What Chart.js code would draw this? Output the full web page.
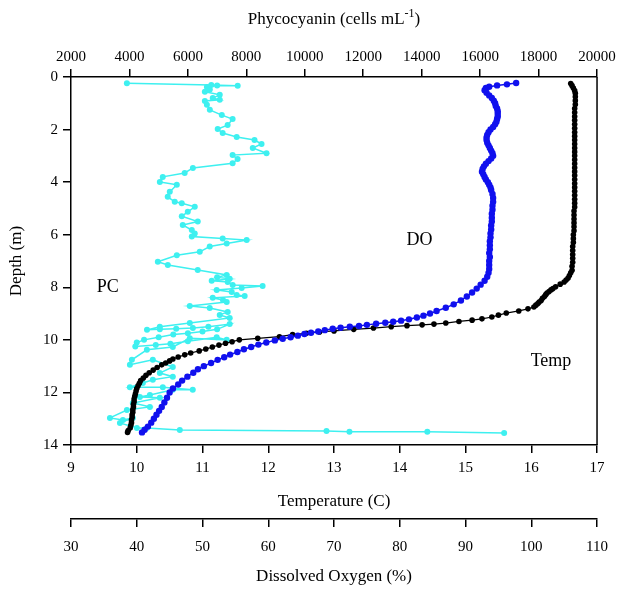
<!DOCTYPE html>
<html>
<head>
<meta charset="utf-8">
<script src="https://cdn.jsdelivr.net/npm/chart.js@4.4.1/dist/chart.umd.min.js"></script>
<style>
  html, body { margin: 0; padding: 0; background: #ffffff; }
  #c { display: block; }
</style>
</head>
<body>
<canvas id="c" width="619" height="590"></canvas>
<script>
// ---------------- DATA ----------------
// Temperature (C) profile
const tempDepth = [
  0.25,0.33,0.42,0.52,0.62,0.75,0.9,1.05,1.2,1.35,
  1.5,1.65,1.8,1.95,2.1,2.25,2.4,2.55,2.7,2.85,
  3.0,3.15,3.3,3.45,3.6,3.75,3.9,4.05,4.2,4.35,
  4.5,4.65,4.8,4.95,5.1,5.25,5.4,5.55,5.7,5.85,
  6.0,6.15,6.3,6.45,6.6,6.75,6.9,7.05,7.2,7.35,
  7.45,7.55,7.65,7.72,7.8,7.88,7.98,8.05,8.1,8.16,
  8.22,8.28,8.35,8.42,8.5,8.56,8.62,8.68,8.75,8.82,
  8.9,8.98,9.06,9.13,9.2,9.25,9.3,9.36,9.4,9.43,
  9.46,9.5,9.55,9.6,9.66,9.7,9.75,9.8,9.88,9.94,
  10.0,10.07,10.13,10.2,10.27,10.35,10.42,10.5,10.57,10.65,
  10.73,10.8,10.88,10.95,11.05,11.15,11.25,11.35,11.45,11.55,
  11.65,11.75,11.85,11.95,12.05,12.15,12.25,12.35,12.45,12.55,
  12.65,12.75,12.85,12.95,13.05,13.15,13.25,13.35,13.45,13.52
];
const tempValues = [
  16.6,16.62,16.64,16.66,16.67,16.67,16.67,16.67,16.66,16.66,
  16.66,16.66,16.66,16.66,16.66,16.66,16.66,16.66,16.66,16.66,
  16.66,16.66,16.66,16.66,16.66,16.66,16.66,16.66,16.66,16.66,
  16.66,16.66,16.66,16.66,16.65,16.65,16.65,16.65,16.65,16.65,
  16.64,16.64,16.64,16.63,16.63,16.63,16.63,16.63,16.62,16.62,
  16.6,16.58,16.56,16.53,16.5,16.44,16.37,16.33,16.3,16.27,
  16.24,16.22,16.2,16.17,16.15,16.12,16.1,16.07,16.04,15.95,
  15.81,15.62,15.5,15.4,15.25,15.1,14.9,14.7,14.52,14.34,
  14.11,13.87,13.6,13.3,13.0,12.78,12.58,12.37,12.17,11.84,
  11.56,11.45,11.35,11.25,11.15,11.05,10.95,10.82,10.73,10.63,
  10.55,10.5,10.44,10.38,10.31,10.25,10.19,10.14,10.1,10.06,
  10.04,10.02,10.0,9.99,9.98,9.97,9.96,9.96,9.95,9.95,
  9.94,9.94,9.93,9.93,9.92,9.92,9.91,9.9,9.87,9.86
];

// Dissolved oxygen (%) profile
const doDepth = [
  0.23,0.28,0.32,0.37,0.42,0.5,0.6,0.7,0.8,0.9,
  1.0,1.1,1.2,1.3,1.4,1.5,1.6,1.7,1.8,1.9,
  2.0,2.1,2.2,2.3,2.4,2.5,2.6,2.7,2.8,2.9,
  3.0,3.1,3.2,3.3,3.4,3.5,3.6,3.7,3.8,3.9,
  4.0,4.1,4.2,4.3,4.45,4.6,4.75,4.9,5.05,5.2,
  5.35,5.5,5.65,5.8,5.95,6.1,6.25,6.4,6.55,6.7,
  6.85,7.0,7.15,7.3,7.45,7.6,7.75,7.9,8.05,8.2,
  8.35,8.5,8.65,8.78,8.9,9.0,9.08,9.15,9.22,9.27,
  9.31,9.35,9.39,9.43,9.47,9.5,9.54,9.58,9.63,9.68,
  9.73,9.78,9.84,9.9,9.96,10.02,10.1,10.18,10.27,10.36,
  10.46,10.56,10.66,10.76,10.88,11.0,11.12,11.25,11.4,11.55,
  11.7,11.85,12.0,12.2,12.38,12.55,12.7,12.85,13.0,13.15,
  13.3,13.42,13.52
];
const doValues = [
  97.7,96.3,94.8,93.6,93.1,92.9,93.2,93.6,94.0,94.3,
  94.5,94.6,94.8,94.9,94.9,94.9,94.8,94.7,94.5,94.2,
  93.8,93.5,93.3,93.2,93.2,93.3,93.5,93.7,93.9,94.1,
  94.2,93.9,93.5,93.1,92.8,92.6,92.5,92.7,92.9,93.1,
  93.4,93.6,93.8,93.9,94.1,94.2,94.2,94.1,94.1,94.0,
  94.0,94.0,93.9,93.9,93.8,93.8,93.7,93.7,93.7,93.6,
  93.7,93.6,93.6,93.6,93.5,93.3,92.9,92.3,91.7,91.0,
  90.2,89.3,88.2,87.0,85.6,84.6,83.6,82.6,81.4,80.2,
  79.0,77.8,76.4,75.0,73.8,72.4,71.0,69.8,68.6,67.6,
  66.5,65.5,64.5,63.4,62.2,61.0,59.7,58.5,57.4,56.3,
  55.3,54.2,53.3,52.3,51.3,50.2,49.3,48.6,47.7,46.9,
  46.3,45.5,45.0,44.6,44.2,43.8,43.4,43.0,42.6,42.2,
  41.7,41.2,40.8
];

// Phycocyanin (cells mL-1) profile
const pcDepth = [0.24,0.3,0.33,0.32,0.38,0.48,0.56,0.68,0.8,0.87,0.91,1.06,1.25,1.45,1.6,1.83,1.98,2.13,2.28,2.4,2.55,2.7,2.9,2.97,3.12,3.28,3.46,3.65,3.8,3.99,4.1,4.37,4.56,4.75,4.8,4.94,5.13,5.3,5.5,5.63,5.82,5.95,6.07,6.14,6.2,6.33,6.45,6.65,6.78,7.03,7.15,7.34,7.53,7.62,7.68,7.75,7.8,7.91,7.95,8.03,8.1,8.18,8.29,8.33,8.4,8.48,8.56,8.71,8.79,8.94,9.05,9.17,9.36,9.5,9.62,9.6,9.58,9.55,9.5,9.4,9.6,9.68,9.75,9.8,9.9,10.0,10.1,10.25,10.2,10.15,10.05,9.9,10.0,9.94,10.27,10.38,10.76,10.95,10.76,11.03,11.26,11.4,11.52,11.64,11.8,11.8,11.9,11.9,12.1,12.17,12.2,12.4,12.55,12.67,12.97,13.05,12.97,13.16,13.35,13.35,13.43,13.47,13.5,13.5,13.54];
const pcValues = [3913,6800,7704,7000,6650,6750,6580,7090,6850,7090,6580,6650,6750,7160,7530,7360,7020,7190,7670,8280,8520,8220,8690,7530,7700,7530,6170,5890,5140,5040,5620,5380,5310,5550,5790,6235,5996,5791,6337,5825,6133,6235,6133,7191,8011,7328,6747,6406,5620,4971,5313,6337,7328,7000,7430,6815,7362,7533,8557,7840,6986,7500,7670,7943,6850,7200,7328,6065,6747,7362,7089,7430,6065,5040,4600,5040,5600,6170,6700,7430,7000,6500,6000,5500,5000,4500,4250,4200,4900,5400,6000,6986,7328,6065,5483,4596,4083,4015,4800,5483,5040,5483,4800,4460,4015,5142,6167,5483,4700,4357,5040,4117,4700,3913,3332,3776,4117,3674,4254,4596,5723,10743,11528,14193,16822];

// Axis ticks
const depthTicks = [0,2,4,6,8,10,12,14];
const tempTicks = [9,10,11,12,13,14,15,16,17];
const doTicks = [30,40,50,60,70,80,90,100,110];
const pcTicks = [2000,4000,6000,8000,10000,12000,14000,16000,18000,20000];

// Series labels drawn inside the plot
const seriesLabels = ['PC','DO','Temp'];
</script>
<script>
// ---------------- CHART ----------------
const serif = "'Liberation Serif', 'Times New Roman', serif";
const pairs = (xs, ys) => xs.map((v, i) => ({ x: v, y: ys[i] }));

// where the in-plot labels go (temperature units, depth)
const labelPlaces = [
  { t: 9.56, d: 8.0 },
  { t: 14.3, d: 6.2 },
  { t: 16.3, d: 10.8 }
];

const decor = {
  id: 'decor',
  afterDraw(chart) {
    const { ctx, chartArea, scales } = chart;
    ctx.save();
    ctx.strokeStyle = '#000';
    ctx.lineWidth = 1.5;
    ctx.beginPath();
    ctx.moveTo(chartArea.right, chartArea.top);
    ctx.lineTo(chartArea.right, chartArea.bottom);
    ctx.stroke();

    ctx.fillStyle = '#000';
    ctx.font = '18px ' + serif;
    ctx.textAlign = 'center';
    ctx.textBaseline = 'middle';
    seriesLabels.forEach((s, i) => {
      const p = labelPlaces[i];
      ctx.fillText(s, scales.x.getPixelForValue(p.t), scales.y.getPixelForValue(p.d));
    });

    const main = 'Phycocyanin (cells mL';
    const sup = '-1';
    const tail = ')';
    const f1 = '17px ' + serif, f2 = '12px ' + serif;
    ctx.font = f1; const w1 = ctx.measureText(main).width; const w3 = ctx.measureText(tail).width;
    ctx.font = f2; const w2 = ctx.measureText(sup).width;
    const total = w1 + w2 + w3;
    const x0 = (chartArea.left + chartArea.right) / 2 - total / 2;
    const yb = 24;
    ctx.textAlign = 'left';
    ctx.textBaseline = 'alphabetic';
    ctx.font = f1; ctx.fillText(main, x0, yb);
    ctx.font = f2; ctx.fillText(sup, x0 + w1, yb - 7);
    ctx.font = f1; ctx.fillText(tail, x0 + w1 + w2, yb);
    ctx.restore();
  }
};

function axisBase(min, max, step) {
  return {
    type: 'linear',
    min: min, max: max,
    grid: { display: true, drawOnChartArea: false, drawTicks: true, tickLength: 8, color: '#000', lineWidth: 1.5 },
    border: { display: true, color: '#000', width: 1.5 },
    ticks: {
      stepSize: step,
      color: '#000',
      font: { family: serif, size: 15 },
      callback: (v) => String(v)
    }
  };
}

const yAxis = axisBase(depthTicks[0], depthTicks[depthTicks.length - 1], depthTicks[1] - depthTicks[0]);
yAxis.position = 'left';
yAxis.reverse = true;
yAxis.ticks.padding = 5;
yAxis.title = { display: true, text: 'Depth (m)', color: '#000', font: { family: serif, size: 17 }, padding: { top: 6, bottom: 0 } };
yAxis.afterFit = (s) => { s.width = 71; };

const xTemp = axisBase(tempTicks[0], tempTicks[tempTicks.length - 1], tempTicks[1] - tempTicks[0]);
xTemp.position = 'bottom';
xTemp.weight = 0;
xTemp.ticks.padding = 6;
xTemp.title = { display: true, text: 'Temperature (C)', color: '#000', font: { family: serif, size: 17 }, padding: { top: 0, bottom: 7 } };
xTemp.afterFit = (s) => { s.height = 74; };

const xDO = axisBase(doTicks[0], doTicks[doTicks.length - 1], doTicks[1] - doTicks[0]);
xDO.position = 'bottom';
xDO.weight = 1;
xDO.ticks.padding = 11;
xDO.title = { display: true, text: 'Dissolved Oxygen (%)', color: '#000', font: { family: serif, size: 17 }, padding: { top: 0, bottom: 3 } };
xDO.afterFit = (s) => { s.height = 71; };

const xPC = axisBase(pcTicks[0], pcTicks[pcTicks.length - 1], pcTicks[1] - pcTicks[0]);
xPC.position = 'top';
xPC.ticks.padding = 3;
xPC.afterFit = (s) => { s.height = 77; };

new Chart(document.getElementById('c'), {
  type: 'scatter',
  data: {
    datasets: [
      {
        label: 'DO',
        data: pairs(doValues, doDepth),
        xAxisID: 'xDO', yAxisID: 'y',
        showLine: true,
        borderColor: '#1010ee', backgroundColor: '#1010ee',
        borderWidth: 1.5, pointRadius: 3.2, pointBorderWidth: 0
      },
      {
        label: 'Temp',
        data: pairs(tempValues, tempDepth),
        xAxisID: 'x', yAxisID: 'y',
        showLine: true,
        borderColor: '#000000', backgroundColor: '#000000',
        borderWidth: 1.2, pointRadius: 2.8, pointBorderWidth: 0
      },
      {
        label: 'PC',
        data: pairs(pcValues, pcDepth),
        xAxisID: 'xPC', yAxisID: 'y',
        showLine: true,
        borderColor: '#3ef0f0', backgroundColor: '#3ef0f0',
        borderWidth: 1.5, pointRadius: 3, pointBorderWidth: 0
      }
    ]
  },
  options: {
    responsive: false,
    animation: false,
    devicePixelRatio: 1,
    layout: { padding: { left: 0, right: 21, top: 0, bottom: 0 } },
    plugins: { legend: { display: false }, tooltip: { enabled: false } },
    scales: { y: yAxis, x: xTemp, xDO: xDO, xPC: xPC }
  },
  plugins: [decor]
});
</script>
</body>
</html>
